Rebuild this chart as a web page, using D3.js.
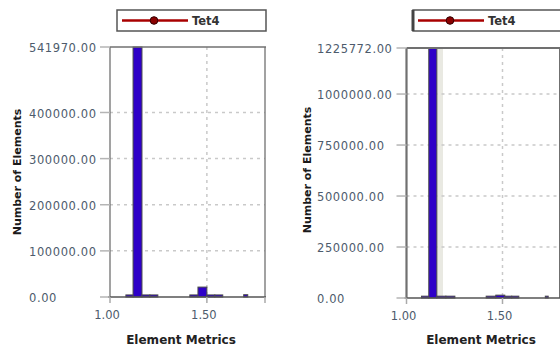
<!DOCTYPE html>
<html>
<head>
<meta charset="utf-8">
<script src="https://cdn.jsdelivr.net/npm/d3@7/dist/d3.min.js"></script>
<style>
  html, body { margin: 0; padding: 0; background: #fff; }
  svg { display: block; }
</style>
</head>
<body>
<svg id="chart" width="560" height="346"></svg>
<script>
// Mesh quality histograms (Tet4 elements), two meshes side by side.
const seriesName = "Tet4";
const xTitle = "Element Metrics";
const yTitle = "Number of Elements";
const xTickValues = [1.00, 1.50];

// Coarse mesh: histogram bins (metric range) and element counts
const coarseBinLo  = [1.082, 1.119, 1.165, 1.206, 1.412, 1.454, 1.500, 1.541, 1.690];
const coarseBinHi  = [1.119, 1.165, 1.206, 1.247, 1.454, 1.500, 1.541, 1.582, 1.711];
const coarseCounts = [4500, 541970, 4500, 4500, 4500, 21500, 4500, 4500, 5000];
const coarseYTicks = [0, 100000, 200000, 300000, 400000, 541970];

// Fine mesh: histogram bins and element counts
const fineBinLo  = [1.078, 1.116, 1.158, 1.205, 1.415, 1.465, 1.512, 1.548, 1.723];
const fineBinHi  = [1.116, 1.158, 1.205, 1.252, 1.465, 1.512, 1.548, 1.585, 1.738];
const fineCounts = [9000, 1225772, 9000, 9000, 9000, 14000, 9000, 9000, 9000];
const fineYTicks = [0, 250000, 500000, 750000, 1000000, 1225772];
// shaded (selected) bin next to the tallest bar
const fineShadeLo = 1.158, fineShadeHi = 1.19;

const svg = d3.select("#chart");
svg.append("rect").attr("width", 560).attr("height", 346).attr("fill", "#fff");

const fmt = d3.format(".2f");

function drawPanel(p) {
  const g = svg.append("g");
  const x = d3.scaleLinear().domain([1.0, 1.8]).range([p.left, p.right]);
  const y = d3.scaleLinear().domain([0, d3.max(p.yTicks)]).range([p.bottom, p.top]);

  // shaded bin
  if (p.shade) {
    g.append("rect")
      .attr("x", x(p.shade[0])).attr("y", p.top)
      .attr("width", x(p.shade[1]) - x(p.shade[0]))
      .attr("height", p.bottom - p.top)
      .attr("fill", "#e9e9e2");
  }

  // horizontal dashed grid
  g.selectAll("line.hgrid")
    .data(p.yTicks.filter(v => v > 0 && v < d3.max(p.yTicks)))
    .join("line")
    .attr("x1", p.left).attr("x2", p.right)
    .attr("y1", d => y(d)).attr("y2", d => y(d))
    .attr("stroke", "#c9c9c9").attr("stroke-width", 1.5)
    .attr("stroke-dasharray", "3,4");

  // vertical dashed grid
  g.selectAll("line.vgrid")
    .data(xTickValues.filter(v => v > 1.0))
    .join("line")
    .attr("x1", d => x(d)).attr("x2", d => x(d))
    .attr("y1", p.top).attr("y2", p.bottom)
    .attr("stroke", "#c9c9c9").attr("stroke-width", 1.5)
    .attr("stroke-dasharray", "3,4");

  // histogram bars
  const bins = p.lo.map((lo, i) => ({ lo, hi: p.hi[i], n: p.counts[i] }));
  g.selectAll("rect.bar")
    .data(bins)
    .join("rect")
    .attr("x", d => x(d.lo))
    .attr("width", d => x(d.hi) - x(d.lo))
    .attr("y", d => y(d.n))
    .attr("height", d => y(0) - y(d.n))
    .attr("fill", "#2e00c8")
    .attr("stroke", "#4a4a4a")
    .attr("stroke-width", 1);

  // frame
  g.append("line").attr("x1", p.left).attr("x2", p.right + 1)
    .attr("y1", p.top).attr("y2", p.top)
    .attr("stroke", "#707070").attr("stroke-width", p.frameW);
  g.append("line").attr("x1", p.left).attr("x2", p.left)
    .attr("y1", p.top).attr("y2", p.bottom)
    .attr("stroke", "#707070").attr("stroke-width", p.frameW);
  g.append("line").attr("x1", p.right).attr("x2", p.right)
    .attr("y1", p.top).attr("y2", p.bottom)
    .attr("stroke", "#707070").attr("stroke-width", p.frameW);
  g.append("line").attr("x1", p.left - 2).attr("x2", p.right + 1)
    .attr("y1", p.bottom).attr("y2", p.bottom)
    .attr("stroke", "#555").attr("stroke-width", 1.5);

  // y ticks and labels
  g.selectAll("line.ytick").data(p.yTicks).join("line")
    .attr("x1", p.left - 10).attr("x2", p.left)
    .attr("y1", d => y(d)).attr("y2", d => y(d))
    .attr("stroke", "#b5b5b5").attr("stroke-width", 1.5);
  g.selectAll("text.ylab").data(p.yTicks).join("text")
    .attr("x", p.labelX).attr("y", d => y(d) + 1)
    .attr("dy", "0.35em")
    .attr("font-family", "DejaVu Sans, sans-serif")
    .attr("font-size", 11.5)
    .attr("letter-spacing", 0.6)
    .attr("fill", "#4d5b6c")
    .text(d => fmt(d));

  // x ticks and labels
  g.selectAll("line.xtick").data(p.xTickMarks).join("line")
    .attr("x1", d => x(d)).attr("x2", d => x(d))
    .attr("y1", p.bottom).attr("y2", p.bottom + 6)
    .attr("stroke", "#aaa").attr("stroke-width", 1.5);
  g.selectAll("text.xlab").data(xTickValues).join("text")
    .attr("x", d => x(d) - 3).attr("y", p.bottom + 18)
    .attr("dy", "0.35em")
    .attr("text-anchor", "middle")
    .attr("font-family", "DejaVu Sans, sans-serif")
    .attr("font-size", 11.5)
    .attr("fill", "#4d5b6c")
    .text(d => fmt(d));

  // axis titles
  g.append("text")
    .attr("x", p.xTitleX).attr("y", 340)
    .attr("dy", "0.35em")
    .attr("text-anchor", "middle")
    .attr("font-family", "DejaVu Sans, sans-serif")
    .attr("font-weight", "bold")
    .attr("font-size", 12)
    .attr("fill", "#222")
    .text(xTitle);
  g.append("text")
    .attr("transform", `translate(${p.yTitleX},${p.yTitleY}) rotate(-90)`)
    .attr("dy", "0.35em")
    .attr("text-anchor", "middle")
    .attr("font-family", "DejaVu Sans, sans-serif")
    .attr("font-weight", "bold")
    .attr("font-size", 11)
    .attr("fill", "#1a1a1a")
    .text(yTitle);

  // legend
  const lg = g.append("g");
  lg.append("rect")
    .attr("x", p.legX).attr("y", 10)
    .attr("width", p.legW).attr("height", 21)
    .attr("fill", "#fff").attr("stroke", "#555").attr("stroke-width", 1.5);
  if (p.legThickLeft) {
    lg.append("line").attr("x1", p.legX).attr("x2", p.legX)
      .attr("y1", 10).attr("y2", 31)
      .attr("stroke", "#444").attr("stroke-width", 3);
  }
  lg.append("line")
    .attr("x1", p.legX + 5).attr("x2", p.legX + 71)
    .attr("y1", 20.5).attr("y2", 20.5)
    .attr("stroke", "#a80000").attr("stroke-width", 2.5);
  lg.append("circle")
    .attr("cx", p.legX + 37).attr("cy", 20.5).attr("r", 3.8)
    .attr("fill", "#8a0000").attr("stroke", "#300").attr("stroke-width", 1);
  lg.append("text")
    .attr("x", p.legX + 75).attr("y", 20.5)
    .attr("dy", "0.35em")
    .attr("font-family", "DejaVu Sans, sans-serif")
    .attr("font-size", 11.5)
    .attr("font-weight", 600)
    .attr("fill", "#333")
    .text(seriesName);
}

drawPanel({
  left: 110, right: 265, top: 47, bottom: 297,
  lo: coarseBinLo, hi: coarseBinHi, counts: coarseCounts, yTicks: coarseYTicks,
  xTickMarks: [1.0, 1.5, 1.8],
  labelX: 29, frameW: 1.3,
  xTitleX: 181, yTitleX: 17, yTitleY: 172,
  legX: 117, legW: 149, legThickLeft: false
});

drawPanel({
  left: 406.5, right: 560.1, top: 48, bottom: 298,
  lo: fineBinLo, hi: fineBinHi, counts: fineCounts, yTicks: fineYTicks,
  shade: [fineShadeLo, fineShadeHi],
  xTickMarks: [1.0, 1.5],
  labelX: 317, frameW: 2.2,
  xTitleX: 481, yTitleX: 307, yTitleY: 170,
  legX: 413, legW: 160, legThickLeft: true
});
</script>
</body>
</html>
